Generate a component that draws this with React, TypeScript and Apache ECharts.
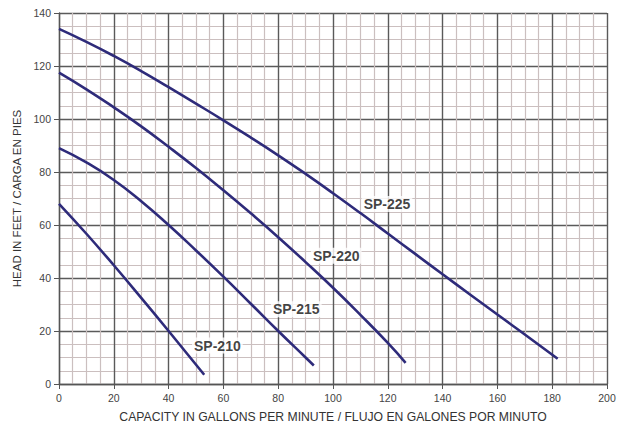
import React, { useEffect, useRef } from "react";
import * as echarts from "echarts";

const xTicks = [0, 20, 40, 60, 80, 100, 120, 140, 160, 180, 200];
const yTicks = [0, 20, 40, 60, 80, 100, 120, 140];

const sp225: [number, number][] = [[0,134],[10,129.1],[20,123.8],[30,118.1],[40,112],[50,105.8],[60,99.5],[70,93],[80,86.3],[90,79.3],[100,72],[110,64.5],[120,56.8],[130,49.1],[140,41.4],[150,33.8],[160,26.2],[170,18.7],[182,9.5]];
const sp220: [number, number][] = [[0,117.5],[10,111.2],[20,104.4],[30,97.2],[40,89.5],[50,81.5],[60,73.1],[70,64.4],[80,55.4],[90,46],[100,36.3],[110,26.1],[120,15.5],[126.5,8]];
const sp215: [number, number][] = [[0,89],[10,83.6],[20,77],[30,69],[40,60],[50,50.4],[60,40.5],[70,30.3],[80,20],[90,10],[93,7]];
const sp210: [number, number][] = [[0,68],[10,56.7],[20,44.8],[30,32.5],[40,20],[53,3.5]];

const curveNames = ["SP-225", "SP-220", "SP-215", "SP-210"];
const labelPositions: [number, number][] = [[119.7, 67.9], [101.2, 48.4], [86.6, 28.2], [57.8, 14.5]];

export default function App() {
  const ref = useRef<HTMLDivElement>(null);
  useEffect(() => {
    if (!ref.current) return;
    const chart = echarts.init(ref.current, undefined, { renderer: "svg" });
    const curves = [sp225, sp220, sp215, sp210];
    const lineColor = "#2e2b7a";
    const font = "Liberation Sans, Arial, sans-serif";
    const axisCommon = {
      axisLine: { show: true, lineStyle: { color: "#555", width: 1.3 } },
      axisTick: { show: true, length: 5, lineStyle: { color: "#555" } },
      axisLabel: { fontFamily: font, fontSize: 10.5, color: "#444", margin: 8 },
      splitLine: { show: true, lineStyle: { color: "#5a5a5a", width: 1.4 } },
      minorTick: { show: false, splitNumber: 4 },
      minorSplitLine: { show: true, lineStyle: { color: "#cbbfbf", width: 1.2 } },
    };
    chart.setOption({
      animation: false,
      backgroundColor: "#ffffff",
      grid: { left: 59, right: 19, top: 13, bottom: 47 },
      xAxis: {
        type: "value",
        min: xTicks[0],
        max: xTicks[xTicks.length - 1],
        interval: 20,
        name: "CAPACITY IN GALLONS PER MINUTE / FLUJO EN GALONES POR MINUTO",
        nameLocation: "middle",
        nameGap: 27,
        nameTextStyle: { fontFamily: font, fontSize: 12.2, color: "#333" },
        ...axisCommon,
      },
      yAxis: {
        type: "value",
        min: yTicks[0],
        max: yTicks[yTicks.length - 1],
        interval: 20,
        name: "HEAD IN FEET / CARGA EN PIES",
        nameLocation: "middle",
        nameRotate: 90,
        nameGap: 32,
        nameTextStyle: { fontFamily: font, fontSize: 11.5, color: "#333" },
        ...axisCommon,
      },
      series: [
        ...curves.map((d, i) => ({
          name: curveNames[i],
          type: "line",
          data: d,
          smooth: true,
          symbol: "none",
          lineStyle: { color: lineColor, width: 2.6 },
          z: 5,
        })),
        {
          type: "scatter",
          symbolSize: 0,
          data: labelPositions.map((p, i) => ({ value: p, name: curveNames[i] })),
          label: {
            show: true,
            position: "inside",
            formatter: (p: any) => p.name,
            fontFamily: font,
            fontWeight: "bold",
            fontSize: 14,
            color: "#111",
            backgroundColor: "#ffffff",
            padding: [1, 2],
          },
          z: 10,
          silent: true,
        },
      ],
    });
    return () => chart.dispose();
  }, []);
  return <div ref={ref} style={{ width: 626, height: 431, position: "absolute", left: 0, top: 0 }} />;
}
